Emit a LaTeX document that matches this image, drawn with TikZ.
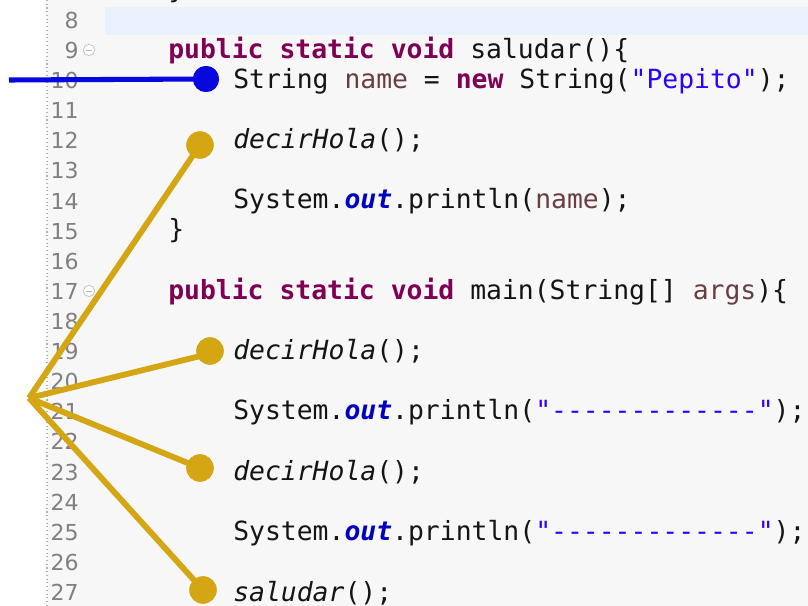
\documentclass[tikz,border=0pt]{standalone}
\usepackage{fontspec}
\setmainfont{DejaVu Sans}
\setmonofont{DejaVu Sans Mono}
\newfontfamily\gutterfont{DejaVu Sans}
\definecolor{editorbg}{RGB}{247,247,248}
\definecolor{curline}{RGB}{232,241,252}
\definecolor{lnumc}{RGB}{128,128,128}
\definecolor{kwc}{RGB}{127,0,85}
\definecolor{strc}{RGB}{42,0,255}
\definecolor{fieldc}{RGB}{0,0,192}
\definecolor{localc}{RGB}{106,62,62}
\definecolor{codec}{RGB}{20,20,20}
\definecolor{callblue}{RGB}{8,8,222}
\definecolor{callgold}{RGB}{212,166,20}
\newcommand{\kwd}[1]{\textcolor{kwc}{\bfseries #1}}
\newcommand{\strl}[1]{\textcolor{strc}{#1}}
\newcommand{\fldn}[1]{\textcolor{fieldc}{\bfseries\itshape #1}}
\newcommand{\locv}[1]{\textcolor{localc}{#1}}
\newcommand{\smeth}[1]{\textit{#1}}
\begin{document}
\begin{tikzpicture}[x=0.75pt,y=-0.75pt,
  lnum/.style={anchor=base east,inner sep=0pt,text=lnumc,font=\gutterfont\fontsize{16.5pt}{18pt}\selectfont},
  code/.style={anchor=base west,inner sep=0pt,text=codec,font=\ttfamily\fontsize{19.8pt}{22pt}\selectfont},
  fold/.style={circle,draw=gray!45,fill=white,line width=0.6pt,inner sep=0pt,minimum size=8.5pt},
  bluedot/.style={circle,fill=callblue,inner sep=0pt,minimum size=19.5pt},
  golddot/.style={circle,fill=callgold,inner sep=0pt,minimum size=20.5pt},
  blueline/.style={draw=callblue,line width=3.8pt},
  goldline/.style={draw=callgold,line width=4.4pt,line join=round}]
\useasboundingbox (0,0) rectangle (808,606);
% editor background, ruler strip and current-line band
\fill[white] (0,0) rectangle (808,606);
\fill[editorbg] (47,0) rectangle (808,606);
\fill[curline] (105,7) rectangle (808,35);
\draw[gray!60,dotted,line width=0.8pt] (47,0) -- (47,606);
% line numbers
\foreach \n in {8,...,27}
  \node[lnum] (ln\n) at (79,{20+(\n-8)*30.1+8.5}) {\n};
% folding markers
\foreach \n/\yy in {9/50,17/291} {
  \node[fold] (fold\n) at (89,\yy) {};
  \draw[gray!55,line width=0.7pt] ([xshift=-2.4pt]fold\n.center) -- ([xshift=2.4pt]fold\n.center);
}
% source code
\begin{scope}
\clip (0,0) rectangle (808,606);
\node[code] (c7)  at (168,-1)  {\}};
\end{scope}
\node[code] (c9)  at (168,59)  {\kwd{public static void} saludar()\{};
\node[code] (c10) at (233,89)  {String \locv{name} = \kwd{new} String(\strl{"Pepito"});};
\node[code] (c12) at (233,149) {\smeth{decirHola}();};
\node[code] (c14) at (233,209) {System.\fldn{out}.println(\locv{name});};
\node[code] (c15) at (168,239) {\}};
\node[code] (c17) at (168,300) {\kwd{public static void} main(String[] \locv{args})\{};
\node[code] (c19) at (233,360) {\smeth{decirHola}();};
\node[code] (c21) at (233,420) {System.\fldn{out}.println(\strl{"-------------"});};
\node[code] (c23) at (233,480) {\smeth{decirHola}();};
\node[code] (c25) at (233,540) {System.\fldn{out}.println(\strl{"-------------"});};
\node[code] (c27) at (233,601) {\smeth{saludar}();};
% call markers
\coordinate (bstart) at (9,80);
\coordinate (hub) at (29,398);
\node[bluedot] (b10) at (206,79) {};
\node[golddot] (g12) at (200,145) {};
\node[golddot] (g19) at (210,351) {};
\node[golddot] (g23) at (200,468) {};
\node[golddot] (g27) at (203,590) {};
\draw[blueline] (bstart) -- (b10.center);
\draw[goldline] (hub) -- (g12.center);
\draw[goldline] (hub) -- ([yshift=-2pt]g19.center);
\draw[goldline] (hub) -- (g23.center);
\draw[goldline] (hub) -- (g27.center);
\node[bluedot] at (b10) {};
\foreach \g in {g12,g19,g23,g27} \node[golddot] at (\g) {};
\end{tikzpicture}
\end{document}
